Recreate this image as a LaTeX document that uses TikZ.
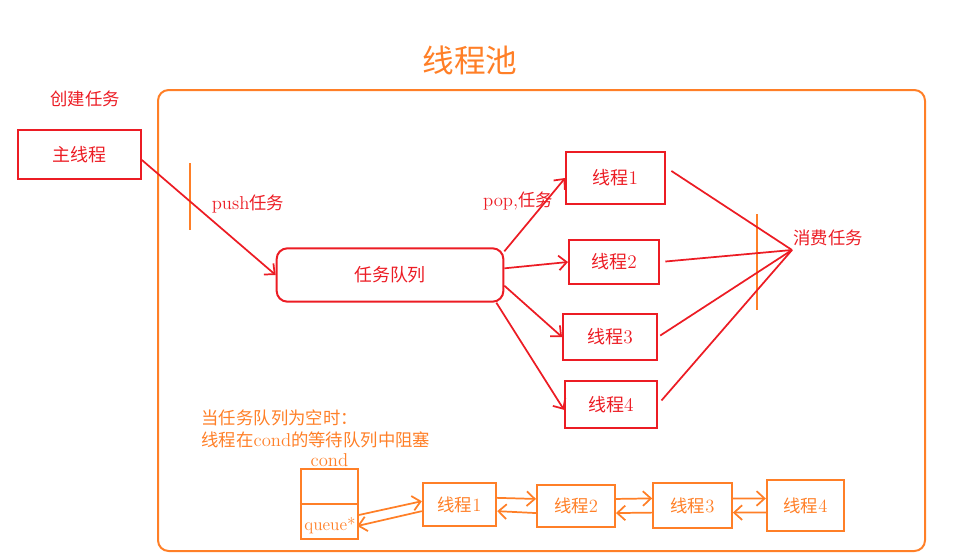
\documentclass[tikz,border=0pt]{standalone}
\usepackage{fontspec}
\newfontfamily\cjk[Scale=0.93]{Noto Sans CJK SC}
\usetikzlibrary{arrows.meta,positioning}
\definecolor{penred}{RGB}{236,28,36}
\definecolor{penorange}{RGB}{255,127,39}

\begin{document}
\begin{tikzpicture}[
x=0.75pt, y=-0.75pt,
redbox/.style={draw=penred, line width=1.5pt, text=penred, inner sep=0pt, font=\fontsize{14.5}{16}\selectfont},
orangebox/.style={draw=penorange, line width=1.5pt, text=penorange, inner sep=0pt, font=\fontsize{14}{16}\selectfont},
redtext/.style={text=penred, inner sep=1pt, font=\fontsize{14}{16}\selectfont},
orangetext/.style={text=penorange, inner sep=1pt, font=\fontsize{14}{16.5}\selectfont},
arrow/.style={-{Straight Barb[length=6pt,width=11pt]}, line width=1.3pt},
tick/.style={penorange, line width=1.5pt}
]
\useasboundingbox (0,0) rectangle (964,553);

% pool frame and title
\draw[penorange, line width=1.5pt, rounded corners=8pt] (158,90) rectangle (925,551);
\node[orangetext, font=\fontsize{25.5}{28}\selectfont] (title) at (470,60) {\cjk 线程池};

% producer side
\node[redtext] (create) at (85,99) {\cjk 创建任务};
\node[redbox, minimum width=92pt, minimum height=37pt] (main) at (79.5,154.5) {\cjk 主线程};
\node[redbox, rounded corners=8pt, minimum width=170pt, minimum height=40pt] (queue) at (390,275) {\cjk 任务队列};
\node[redtext] (push) at (248,204) {push{\cjk 任务}};
\draw[tick] (190,163) -- (190,230);
\draw[penred, arrow] (main.-5) -- (queue.west);

% worker threads
\node[redbox, minimum width=74pt, minimum height=39pt] (t1) at (615.5,178) {{\cjk 线程}1};
\node[redbox, minimum width=67.5pt, minimum height=33pt] (t2) at (614,262) {{\cjk 线程}2};
\node[redbox, minimum width=70.5pt, minimum height=34.5pt] (t3) at (610,337) {{\cjk 线程}3};
\node[redbox, minimum width=69pt, minimum height=35pt] (t4) at (611,404.5) {{\cjk 线程}4};
\node[redtext] (pop) at (518,201) {pop,{\cjk 任务}};
\draw[penred, arrow] ([yshift=-3pt]queue.north east) -- (t1.west);
\draw[penred, arrow] ([yshift=5pt]queue.east) -- (t2.west);
\draw[penred, arrow] ([yshift=-8pt]queue.east) -- (t3.west);
\draw[penred, arrow] ([xshift=-6pt]queue.south east) -- ([yshift=-4pt]t4.west);

% consumers
\coordinate (consume) at (792,250);
\node[redtext, anchor=west] (eat) at (792,238) {\cjk 消费任务};
\draw[tick] (757,214) -- (757,310);
\draw[penred, line width=1.3pt, shorten <=5pt] (t1.12) -- (consume);
\draw[penred, line width=1.3pt, shorten <=4pt] (t2.east) -- (consume);
\draw[penred, line width=1.3pt, shorten <=2pt] (t3.east) -- (consume);
\draw[penred, line width=1.3pt, shorten <=4pt] (t4.east) -- (consume);

% blocked on cond
\node[orangetext, anchor=west, align=left] (note) at (200,429) {{\cjk 当任务队列为空时：}\\{\cjk 线程在}cond{\cjk 的等待队列中阻塞}};
\node[orangebox, minimum width=43pt, minimum height=52.5pt] (cond) at (329.5,504) {};
\draw[orangebox] (cond.west) -- (cond.east);
\node[orangetext, above=0pt of cond] (condname) {cond};
\node[orangetext, font=\fontsize{13}{15}\selectfont] (qptr) at (330,526) {queue*};
\node[orangebox, minimum width=55pt, minimum height=32pt] (b1) at (459.5,504.5) {{\cjk 线程}1};
\node[orangebox, minimum width=58.5pt, minimum height=31.5pt] (b2) at (576,506) {{\cjk 线程}2};
\node[orangebox, minimum width=59pt, minimum height=34pt] (b3) at (692.5,505.5) {{\cjk 线程}3};
\node[orangebox, minimum width=58pt, minimum height=38pt] (b4) at (805.5,505.5) {{\cjk 线程}4};
\draw[penorange, arrow] ([yshift=8pt]qptr.east) -- (b1.175);
\draw[penorange, arrow] (b1.190) -- (qptr.east);
\draw[penorange, arrow] (b1.10) -- (b2.170);
\draw[penorange, arrow] (b2.190) -- (b1.350);
\draw[penorange, arrow] (b2.10) -- (b3.170);
\draw[penorange, arrow] (b3.190) -- (b2.350);
\draw[penorange, arrow] (b3.10) -- (b4.170);
\draw[penorange, arrow] (b4.190) -- (b3.350);
\end{tikzpicture}
\end{document}
